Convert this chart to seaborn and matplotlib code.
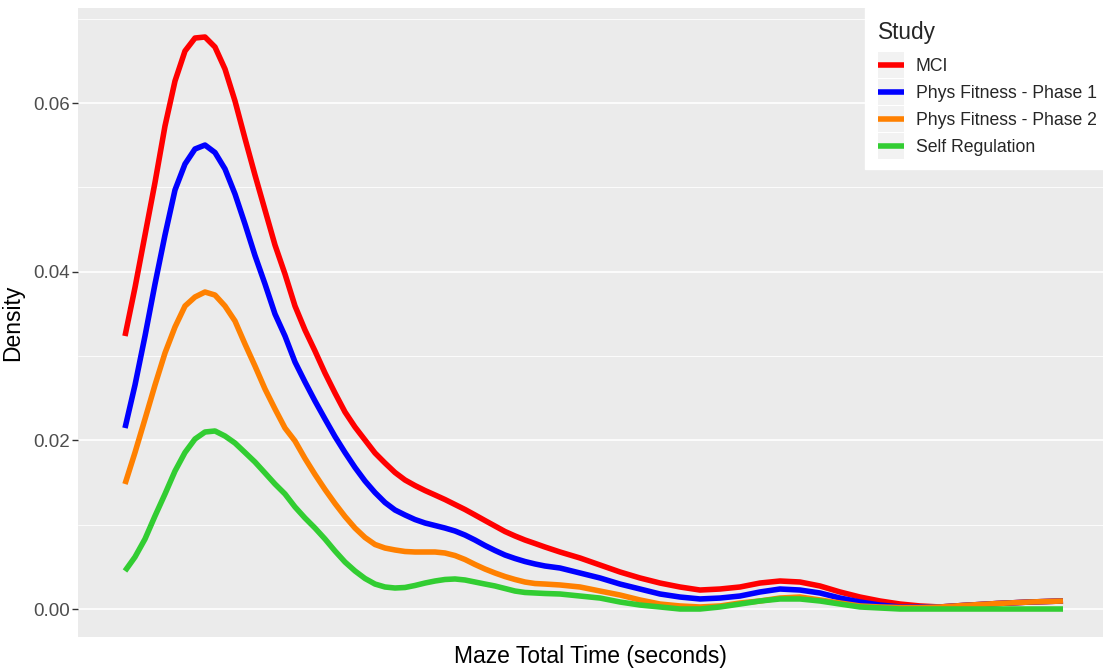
import numpy as np
import pandas as pd
import matplotlib
matplotlib.use("Agg")
import matplotlib.pyplot as plt
from matplotlib.legend_handler import HandlerLine2D
from matplotlib.lines import Line2D
from matplotlib.patches import Rectangle
import seaborn as sns

# values (stacked density curves, top = MCI)
time_sec = [15, 18, 21, 24, 27, 30, 33, 36, 39, 42, 45, 48, 51, 54, 57, 60, 63, 66,
            69, 72, 75, 78, 81, 84, 87, 90, 93, 96, 99, 102, 105, 108, 111, 114, 117,
            120, 123, 126, 129, 132, 135, 138, 141,
            145.5, 151.5, 157.5, 163.5, 169.5, 175.5, 181.5, 187.5, 193.5, 199.5,
            205.5, 211.5, 217.5, 223.5, 229.5, 235.5, 241.5, 247.5, 253.5, 259.5,
            266.4, 276.6, 286.5, 296.4]
mci = [0.03237, 0.03812, 0.04435, 0.05058, 0.05728, 0.06261, 0.06617, 0.06771, 0.06783,
       0.06664, 0.06403, 0.06024, 0.05579, 0.05146, 0.04731, 0.04316, 0.03972, 0.03593,
       0.03308, 0.03059, 0.02798, 0.02561, 0.02336, 0.02158, 0.02004, 0.01850, 0.01731,
       0.01619, 0.01530, 0.01464, 0.01405, 0.01352, 0.01298, 0.01239, 0.01180, 0.01115,
       0.01049, 0.00984, 0.00919, 0.00866, 0.00818, 0.00777, 0.00735,
       0.00676, 0.00605, 0.00522, 0.00439, 0.00368, 0.00308, 0.00261, 0.00225, 0.00237,
       0.00261, 0.00308, 0.00332, 0.00320, 0.00273, 0.00202, 0.00142, 0.00095, 0.00059,
       0.00036, 0.00024,
       0.00042, 0.00065, 0.00083, 0.00095]
phys1 = [0.02146, 0.02656, 0.03237, 0.03854, 0.04435, 0.04969, 0.05277, 0.05455, 0.05502,
         0.05413, 0.05218, 0.04921, 0.04565, 0.04191, 0.03854, 0.03498, 0.03237, 0.02929,
         0.02692, 0.02466, 0.02253, 0.02045, 0.01856, 0.01678, 0.01518, 0.01381, 0.01263,
         0.01174, 0.01115, 0.01061, 0.01020, 0.00990, 0.00960, 0.00925, 0.00877, 0.00818,
         0.00753, 0.00694, 0.00640, 0.00599, 0.00563, 0.00534, 0.00510,
         0.00486, 0.00427, 0.00368, 0.00296, 0.00237, 0.00178, 0.00142, 0.00119, 0.00130,
         0.00154, 0.00202, 0.00237, 0.00225, 0.00190, 0.00130, 0.00083, 0.00047, 0.00024,
         0.00024, 0.00024,
         0.00042, 0.00065, 0.00083, 0.00095]
phys2 = [0.01482, 0.01856, 0.02253, 0.02656, 0.03036, 0.03344, 0.03593, 0.03700, 0.03759,
         0.03723, 0.03593, 0.03415, 0.03142, 0.02881, 0.02609, 0.02372, 0.02146, 0.01992,
         0.01785, 0.01595, 0.01417, 0.01251, 0.01097, 0.00960, 0.00848, 0.00765, 0.00723,
         0.00700, 0.00682, 0.00676, 0.00676, 0.00676, 0.00664, 0.00634, 0.00587, 0.00528,
         0.00474, 0.00427, 0.00385, 0.00350, 0.00320, 0.00302, 0.00296,
         0.00285, 0.00261, 0.00213, 0.00166, 0.00107, 0.00059, 0.00036, 0.00024, 0.00036,
         0.00071, 0.00095, 0.00130, 0.00142, 0.00107, 0.00071, 0.00036, 0.00024, 0.00018,
         0.00018, 0.00024,
         0.00042, 0.00065, 0.00083, 0.00095]
self_reg = [0.00451, 0.00617, 0.00830, 0.01103, 0.01364, 0.01636, 0.01856, 0.02016, 0.02099,
            0.02111, 0.02051, 0.01968, 0.01856, 0.01743, 0.01613, 0.01482, 0.01364, 0.01210,
            0.01079, 0.00960, 0.00830, 0.00688, 0.00557, 0.00451, 0.00362, 0.00296, 0.00261,
            0.00249, 0.00255, 0.00279, 0.00308, 0.00332, 0.00350, 0.00356, 0.00344, 0.00320,
            0.00296, 0.00273, 0.00243, 0.00213, 0.00196, 0.00190, 0.00184,
            0.00178, 0.00154, 0.00130, 0.00083, 0.00047, 0.00024, 0.0, 0.0, 0.00024,
            0.00059, 0.00095, 0.00119, 0.00119, 0.00095, 0.00059, 0.00024, 0.00012, 0.0,
            0.0, 0.0,
            0.0, 0.0, 0.0, 0.0]

studies = ["MCI", "Phys Fitness - Phase 1", "Phys Fitness - Phase 2", "Self Regulation"]
colors = ["#FF0000", "#0000FF", "#FF8000", "#32CD32"]
y_ticks = [0.00, 0.02, 0.04, 0.06]

df = pd.concat([
    pd.DataFrame({"time": time_sec, "density": vals, "Study": name})
    for name, vals in zip(studies, [mci, phys1, phys2, self_reg])
])

sns.set_theme(style="darkgrid", rc={
    "axes.facecolor": "#EBEBEB",
    "grid.color": "white",
})
plt.rcParams["font.family"] = ["Liberation Sans", "DejaVu Sans"]

fig = plt.figure(figsize=(11.03, 6.69), dpi=100)
ax = fig.add_axes([78 / 1103, 32 / 669, 1 - 78 / 1103, 629 / 669])

sns.lineplot(data=df, x="time", y="density", hue="Study", hue_order=studies,
             palette=dict(zip(studies, colors)), linewidth=4.0, ax=ax,
             legend=False, sort=False)
for ln in ax.lines:
    ln.set_solid_capstyle("butt")
    ln.set_solid_joinstyle("round")

ax.set_xlim(0.9, 308.4)
ax.set_ylim(-0.00332, 0.07127)
ax.set_xticks([])
ax.set_yticks(y_ticks)
ax.set_yticklabels([f"{v:.2f}" for v in y_ticks])
ax.set_yticks([0.01, 0.03, 0.05, 0.07], minor=True)
ax.grid(True, which="major", axis="y", color="white", linewidth=1.2)
ax.grid(True, which="minor", axis="y", color="white", linewidth=0.6)
ax.grid(False, axis="x")
for s in ax.spines.values():
    s.set_visible(False)
ax.tick_params(axis="y", which="major", left=True, length=4, width=1,
               color="#333333", labelsize=13.5, labelcolor="#4D4D4D", pad=2)
ax.tick_params(axis="y", which="minor", left=False)
ax.set_xlabel("Maze Total Time (seconds)", fontsize=16.5, color="black", labelpad=6)
ax.set_ylabel("Density", fontsize=16.5, color="black", labelpad=6)


class KeyHandler(HandlerLine2D):
    def create_artists(self, legend, orig_handle, xdescent, ydescent,
                       width, height, fontsize, trans):
        cy = height / 2 - ydescent
        rect = Rectangle((-xdescent, cy - 9.4), width, 18.8,
                         facecolor="#F2F2F2", edgecolor="none", transform=trans)
        arts = super().create_artists(legend, orig_handle, xdescent, ydescent,
                                      width, height, fontsize, trans)
        return [rect] + arts


handles = [Line2D([], [], color=c, linewidth=4.0, solid_capstyle="butt") for c in colors]
leg = fig.legend(handles, studies, title="Study", loc="upper left",
                 bbox_to_anchor=(865 / 1103, 1 - 8 / 669), borderaxespad=0,
                 frameon=True, fancybox=False, framealpha=1, edgecolor="white",
                 facecolor="white", fontsize=12.7, title_fontsize=16.3,
                 handlelength=1.45, handletextpad=0.67, labelspacing=0.56,
                 borderpad=0.75, alignment="left",
                 handler_map={Line2D: KeyHandler()})
leg._legend_box.sep += 3

fig.savefig("out.png", dpi=100)
